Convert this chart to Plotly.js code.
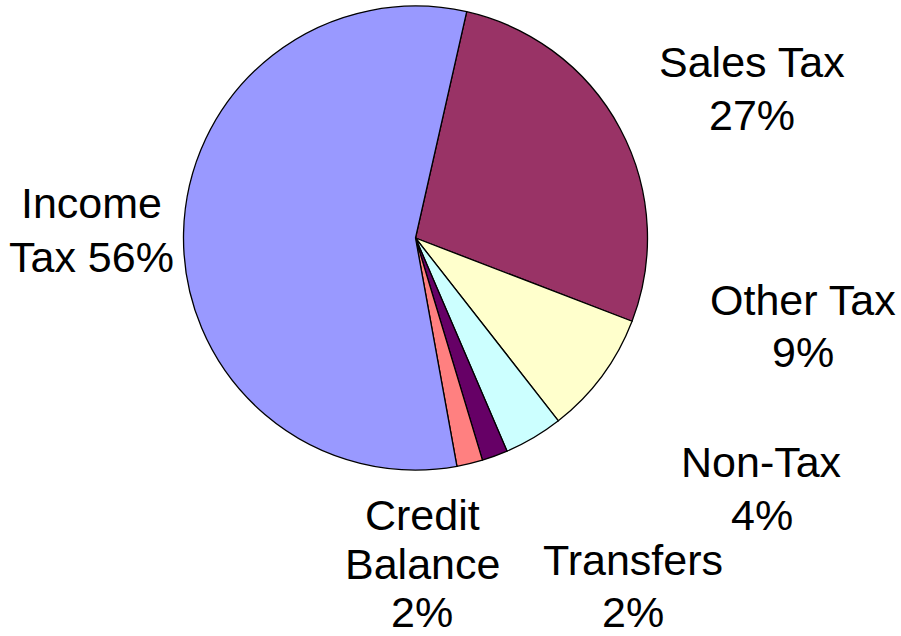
<!DOCTYPE html>
<html>
<head>
<meta charset="utf-8">
<script src="https://cdn.plot.ly/plotly-3.0.1.min.js"></script>
<style>
html,body{margin:0;padding:0;background:#fff;}
#chart{width:901px;height:636px;}
</style>
</head>
<body>
<div id="chart"></div>
<script>
// Data (clockwise order, starting just right of 12 o'clock)
var categories = ["Sales Tax", "Other Tax", "Non-Tax", "Transfers", "Credit Balance", "Income Tax"];
var shares = [27.3, 8.6, 4.1, 1.8, 1.8, 56.4];
var percentLabels = ["27%", "9%", "4%", "2%", "2%", "56%"];
// How each label is broken into lines in the picture
var labelLines = [
  ["Sales Tax", "27%"],
  ["Other Tax", "9%"],
  ["Non-Tax", "4%"],
  ["Transfers", "2%"],
  ["Credit", "Balance", "2%"],
  ["Income", "Tax 56%"]
];
var sliceColors = ["#993366", "#FFFFCC", "#CCFFFF", "#660066", "#FF8080", "#9999FF"];

// label placement (pixels in the 901x636 frame): x centre, and y centre of each line
var labelX = [751.5, 802.5, 761.5, 633, 422, 91];
var labelY = [
  [62, 115],
  [300, 352],
  [462, 515],
  [560, 612],
  [515, 564, 612],
  [203.5, 257]
];

var W = 901, H = 636;
var annotations = [];
categories.forEach(function (c, i) {
  labelLines[i].forEach(function (line, j) {
    annotations.push({
      text: line,
      xref: "paper", yref: "paper",
      x: labelX[i] / W, y: 1 - labelY[i][j] / H,
      xanchor: "center", yanchor: "middle",
      showarrow: false,
      align: "center",
      font: {family: "Liberation Sans, Arial, sans-serif", size: 43, color: "#000"}
    });
  });
});

var trace = {
  type: "pie",
  labels: categories,
  values: shares,
  text: percentLabels,
  sort: false,
  direction: "clockwise",
  rotation: 12.75,
  textinfo: "none",
  hoverinfo: "label+text",
  marker: {colors: sliceColors, line: {color: "#000", width: 1.3}},
  domain: {x: [183.5 / W, 647.5 / W], y: [1 - 470 / H, 1 - 6 / H]},
  showlegend: false
};

var layout = {
  width: W, height: H,
  margin: {l: 0, r: 0, t: 0, b: 0},
  paper_bgcolor: "#fff",
  showlegend: false,
  annotations: annotations
};

Plotly.newPlot("chart", [trace], layout, {displayModeBar: false, staticPlot: true});
</script>
</body>
</html>
